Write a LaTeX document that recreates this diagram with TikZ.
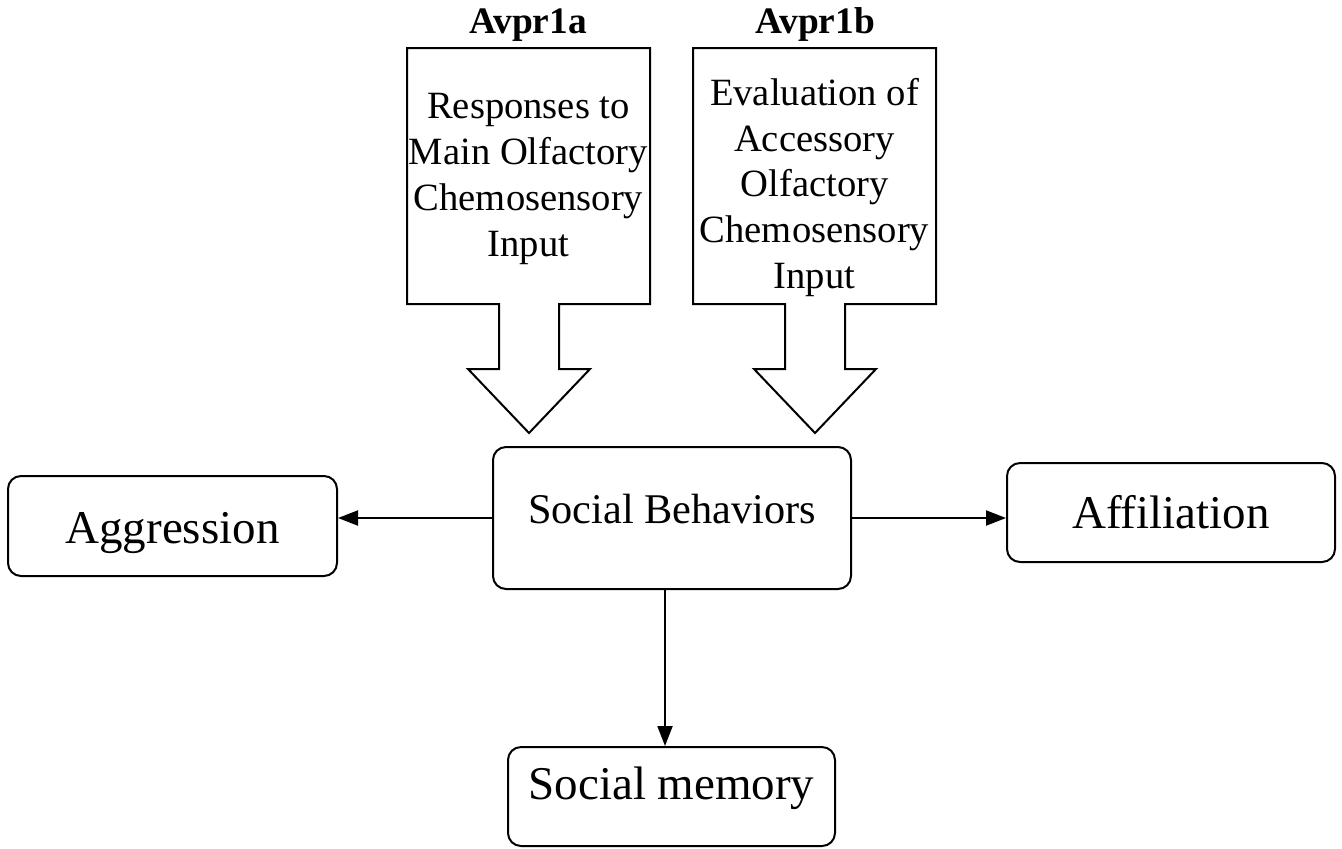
\documentclass[tikz,border=0pt]{standalone}
\usepackage{fontspec}
\setmainfont{Liberation Serif}
\usetikzlibrary{arrows.meta,calc}
\begin{document}
\begin{tikzpicture}[x=0.5pt,y=-0.5pt,
  box/.style={draw, line width=1pt, rounded corners=6.5pt, inner sep=2pt},
  bigfont/.style={font=\fontsize{23.5}{28}\selectfont},
  calltext/.style={align=center, inner sep=0pt, font=\fontsize{19.3}{22.9}\selectfont},
  gene/.style={anchor=base, inner sep=0pt, font=\fontsize{18.7}{22}\selectfont\bfseries},
  outline/.style={draw, line width=1pt, line join=miter},
  link/.style={draw, line width=1pt, -{Triangle[length=10pt,width=7.5pt]}}]
\useasboundingbox (0,0) rectangle (1342,848);

% callout arrows
\coordinate (tip1) at (529,433);
\coordinate (tip2) at (815,433);
\path[outline] (407,48) -- (650,48) -- (650,304) -- (559,304) -- (559,369) -- (590,369)
  -- (tip1) -- (468,369) -- (499,369) -- (499,304) -- (407,304) -- cycle;
\path[outline] (693,48) -- (936,48) -- (936,304) -- (845,304) -- (845,369) -- (876,369)
  -- (tip2) -- (754,369) -- (785,369) -- (785,304) -- (693,304) -- cycle;

\node[gene] (g1) at (528,33) {Avpr1a};
\node[gene] (g2) at (815,33) {Avpr1b};
\node[calltext] (r1) at (528.5,179) {Responses to\\Main Olfactory\\Chemosensory\\Input};
\node[calltext] (r2) at (814.5,187.5) {Evaluation of\\Accessory\\Olfactory\\Chemosensory\\Input};

% boxes
\node[box, minimum width=179pt, minimum height=71pt, text height=15pt, text depth=10pt,
  font=\fontsize{21.15}{25}\selectfont] (sb) at (672,518) {Social Behaviors};
\node[box, bigfont, minimum width=164.5pt, minimum height=50pt, text height=17pt, text depth=0pt]
  (agg) at (172.5,526) {Aggression};
\node[box, bigfont, minimum width=164pt, minimum height=49.5pt, text height=15.5pt, text depth=0pt]
  (aff) at (1171,512.5) {Affiliation};
\node[box, bigfont, minimum width=163.5pt, minimum height=49.5pt, text height=16pt, text depth=13pt]
  (mem) at (671.5,796.5) {Social memory};

% connectors
\path[link] (sb.west) -- (sb.west -| agg.east);
\path[link] (sb.east) -- (sb.east -| aff.west);
\path[link] ([xshift=-3.5pt]sb.south) -- ([xshift=-3.5pt]sb.south |- mem.north);
\end{tikzpicture}
\end{document}
